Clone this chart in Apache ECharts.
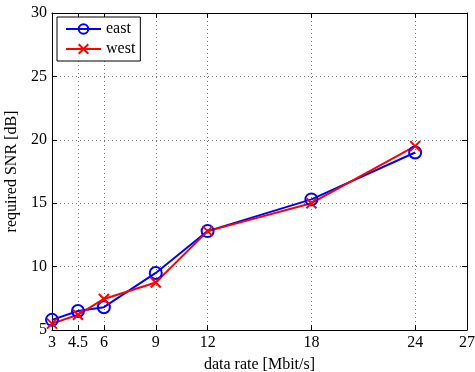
<!DOCTYPE html>
<html><head><meta charset="utf-8">
<script src="https://cdn.jsdelivr.net/npm/echarts@6/dist/echarts.min.js"></script>
<style>html,body{margin:0;padding:0;background:#fff}#c{width:475px;height:372px}</style>
</head><body><div id="c"></div>
<script>
const xTicks = [3, 4.5, 6, 9, 12, 18, 24, 27];
const rates = [3, 4.5, 6, 9, 12, 18, 24];
const east = [5.8, 6.5, 6.8, 9.5, 12.8, 15.3, 19.0];
const west = [5.5, 6.2, 7.45, 8.75, 12.8, 15.0, 19.5];
const seriesNames = ['east', 'west'];

const font = 'Liberation Serif';
const chart = echarts.init(document.getElementById('c'), null, {renderer: 'canvas'});
const gridLine = {show: true, lineStyle: {color: '#777', type: [1, 3], width: 1}};
const pair = (xs, ys) => xs.map((x, i) => [x, ys[i]]);
chart.setOption({
  animation: false,
  grid: {left: 52, right: 8, top: 13, bottom: 42, containLabel: false, outerBoundsMode: 'none'},
  legend: {
    left: 57, top: 17, orient: 'vertical',
    backgroundColor: '#fff', borderColor: '#000', borderWidth: 1,
    padding: [4, 5, 4, 8], itemGap: 4, itemWidth: 35, itemHeight: 12,
    textStyle: {fontFamily: font, fontSize: 16, color: '#000'},
    data: seriesNames
  },
  xAxis: [{
    type: 'value', min: 3, max: 27,
    name: 'data rate [Mbit/s]', nameLocation: 'middle', nameGap: 27,
    nameTextStyle: {fontFamily: font, fontSize: 16, color: '#000'},
    axisLine: {lineStyle: {color: '#000', width: 1}},
    axisTick: {inside: true, length: 5, customValues: xTicks, lineStyle: {color: '#000'}},
    axisLabel: {customValues: xTicks, fontFamily: font, fontSize: 16, color: '#000', margin: 5},
    splitLine: gridLine
  }, {
    type: 'value', min: 3, max: 27, position: 'top',
    axisLine: {show: true, lineStyle: {color: '#000', width: 1}},
    axisTick: {inside: true, length: 5, customValues: xTicks, lineStyle: {color: '#000'}},
    axisLabel: {show: false}, splitLine: {show: false}
  }],
  yAxis: [{
    type: 'value', min: 5, max: 30, interval: 5,
    name: 'required SNR [dB]', nameLocation: 'middle', nameGap: 24,
    nameTextStyle: {fontFamily: font, fontSize: 16, color: '#000'},
    axisLine: {show: true, lineStyle: {color: '#000', width: 1}},
    axisTick: {show: true, inside: true, length: 5, lineStyle: {color: '#000'}},
    axisLabel: {fontFamily: font, fontSize: 16, color: '#000', margin: 5},
    splitLine: gridLine
  }, {
    type: 'value', min: 5, max: 30, interval: 5, position: 'right',
    axisLine: {show: true, lineStyle: {color: '#000', width: 1}},
    axisTick: {show: true, inside: true, length: 5, lineStyle: {color: '#000'}},
    axisLabel: {show: false}, splitLine: {show: false}
  }],
  series: [{
    name: seriesNames[0], type: 'line', data: pair(rates, east),
    symbol: 'circle', symbolSize: 12,
    lineStyle: {color: '#0000ff', width: 2},
    itemStyle: {color: 'rgba(255,255,255,0)', borderColor: '#0000ff', borderWidth: 2}
  }, {
    name: seriesNames[1], type: 'line', data: pair(rates, west),
    symbol: 'path://M0,0L10,10M10,0L0,10', symbolSize: 10,
    lineStyle: {color: '#ff0000', width: 2},
    itemStyle: {color: '#ff0000', borderColor: '#ff0000', borderWidth: 2}
  }]
});
</script></body></html>
